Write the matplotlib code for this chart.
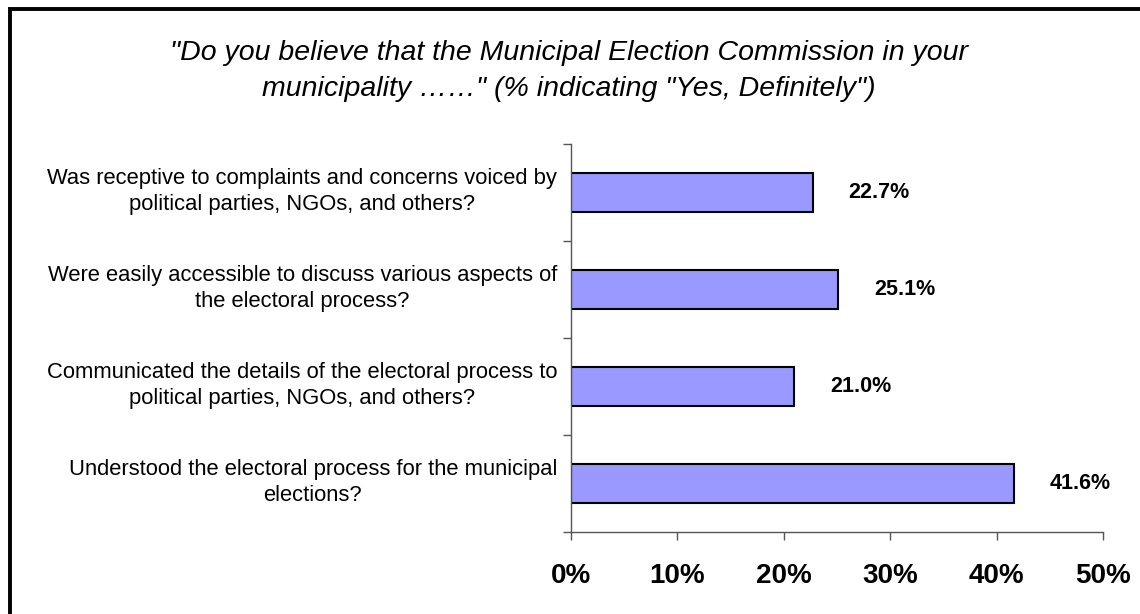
import matplotlib
matplotlib.use("Agg")
import matplotlib.pyplot as plt
from matplotlib.patches import Rectangle
from matplotlib.ticker import FixedLocator, PercentFormatter
from matplotlib.transforms import ScaledTranslation

plt.rcParams['font.family'] = ['Liberation Sans', 'DejaVu Sans']

# survey items, top to bottom
questions = [
    "Was receptive to complaints and concerns voiced by\npolitical parties, NGOs, and others?",
    "Were easily accessible to discuss various aspects of\nthe electoral process?",
    "Communicated the details of the electoral process to\npolitical parties, NGOs, and others?",
    "Understood the electoral process for the municipal\nelections?",
]
yes_definitely = [22.7, 25.1, 21.0, 41.6]
x_ticks = [0, 10, 20, 30, 40, 50]

title = ('"Do you believe that the Municipal Election Commission in your\n'
         'municipality \u2026\u2026" (% indicating "Yes, Definitely")')

fig = plt.figure(figsize=(11.4, 6.14), dpi=100)
ax = fig.add_axes([571 / 1140, 1 - 532 / 614, 532 / 1140, 388 / 614])

pos = list(range(len(questions)))
ax.barh(pos, yes_definitely, height=0.4, color="#9999FF",
        edgecolor="black", linewidth=1.5)

for p, v in zip(pos, yes_definitely):
    ax.annotate(f"{v:.1f}%", (v, p), xytext=(26, 0), textcoords="offset points",
                ha="left", va="center", fontsize=15.5, fontweight="bold")

ax.set_xlim(0, 50)
ax.set_ylim(len(questions) - 0.5, -0.5)
ax.set_xticks(x_ticks)
ax.xaxis.set_major_formatter(PercentFormatter(decimals=0))
ax.set_yticks(pos)
ax.set_yticklabels(questions, fontsize=15.8, ha="right", multialignment="center",
                   linespacing=1.3)
ax.yaxis.set_minor_locator(FixedLocator([p - 0.5 for p in pos] + [len(pos) - 0.5]))

for lbl in ax.get_xticklabels():
    lbl.set_fontsize(20)
    lbl.set_fontweight("bold")

ax.tick_params(axis="x", length=6, width=1, color="#555555", pad=16)
ax.tick_params(axis="y", which="major", length=0, pad=10)
ax.tick_params(axis="y", which="minor", length=6, width=1, color="#555555")

# category labels sit a little above the bar centres
lift = ScaledTranslation(0, 6 / 100, fig.dpi_scale_trans)
for lbl in ax.get_yticklabels():
    lbl.set_transform(lbl.get_transform() + lift)

for side in ("top", "right"):
    ax.spines[side].set_visible(False)
for side in ("left", "bottom"):
    ax.spines[side].set_color("#555555")
    ax.spines[side].set_linewidth(1)

fig.text(569 / 1140, 1 - 71 / 614, title, ha="center", va="center",
         fontsize=20.5, style="italic", linespacing=1.55)

# outer frame around the chart area
fig.add_artist(Rectangle((10.5 / 1140, -0.5), 2.0, 1.5 - 9.5 / 614,
                         transform=fig.transFigure, fill=False,
                         edgecolor="black", linewidth=2.8, clip_on=False))

fig.savefig("out.png", dpi=100)
